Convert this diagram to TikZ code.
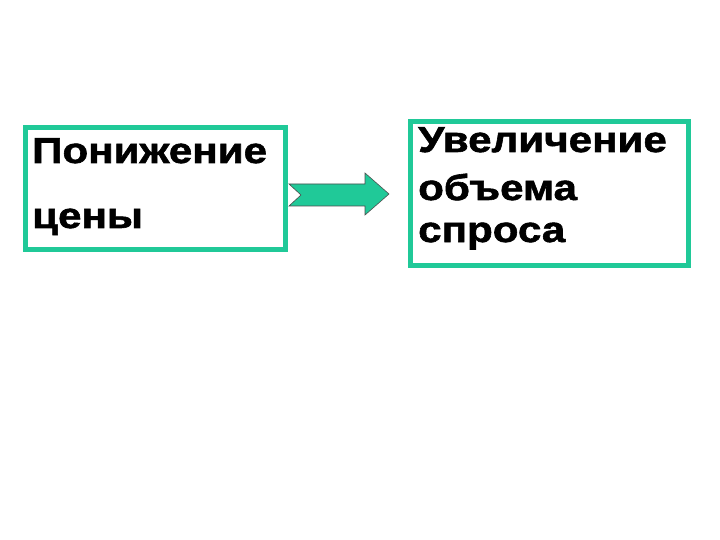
\documentclass[tikz,border=0pt]{standalone}
\usepackage{fontspec}
\setmainfont{Liberation Sans}[FakeBold=1.6,FakeStretch=1.17]
\definecolor{teal1}{RGB}{32,201,152}
\begin{document}
\begin{tikzpicture}[x=1pt,y=-1pt,
  box/.style={draw=teal1, line width=5pt, fill=white, inner sep=0pt, anchor=north west},
  lbl/.style={anchor=base west, inner sep=0pt, font=\fontsize{36}{40}\selectfont\bfseries}]
\useasboundingbox[fill=white] (0,0) rectangle (720,540);
\node[box, minimum width=260pt, minimum height=121pt] (left) at (22.5,125.5) {};
\node[box, minimum width=278pt, minimum height=143pt] (right) at (407.5,119.5) {};
\node[lbl] (t1) at (32,163) {Понижение};
\node[lbl] (t2) at (32,228) {цены};
\node[lbl] (t3) at (418,152) {Увеличение};
\node[lbl] (t4) at (418,200) {объема};
\node[lbl] (t5) at (418,242) {спроса};
\coordinate (a0) at (289,184);
\draw[fill=teal1, draw=black!70, line width=0.6pt]
  (a0) -- (365,184) -- (365,173) -- (389,194) -- (365,215) -- (365,206) -- (289,206) -- (301,195) -- cycle;
\end{tikzpicture}
\end{document}
